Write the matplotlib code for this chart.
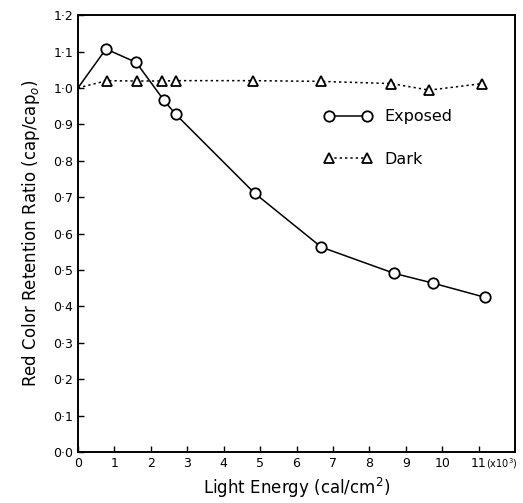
import matplotlib
matplotlib.use('Agg')
import matplotlib.pyplot as plt

plt.rcParams['font.family'] = ['DejaVu Sans']

# light energy (x10^3 cal/cm2) and red colour retention ratio
exposed_x = [0, 0.77, 1.6, 2.36, 2.68, 4.85, 6.68, 8.68, 9.75, 11.18]
exposed_y = [1.0, 1.107, 1.070, 0.966, 0.928, 0.711, 0.563, 0.491, 0.464, 0.425]

dark_x = [0, 0.79, 1.62, 2.3, 2.7, 4.8, 6.66, 8.6, 9.64, 11.1]
dark_y = [1.0, 1.020, 1.019, 1.019, 1.020, 1.020, 1.018, 1.012, 0.994, 1.012]

x_ticks = list(range(0, 12))
x_labels = [str(v) for v in x_ticks]
y_ticks = [i / 10 for i in range(0, 13)]
y_labels = [f'{v:.1f}'.replace('.', '·') for v in y_ticks]

fig = plt.figure(figsize=(5.23, 5.03), dpi=100)
ax = fig.add_axes([0.149, 0.101, 0.836, 0.869])

# first point (origin) has no marker in the original
ax.plot(exposed_x, exposed_y, color='black', lw=1.1, zorder=2)
ax.plot(exposed_x[1:], exposed_y[1:], ls='none', marker='o', ms=7.5,
        mfc='white', mec='black', mew=1.3, zorder=3)
ax.plot(dark_x, dark_y, color='black', lw=1.1, ls=(0, (1.5, 2)), zorder=2)
ax.plot(dark_x[1:], dark_y[1:], ls='none', marker='^', ms=7.5,
        mfc='white', mec='black', mew=1.3, zorder=3)

# legend proxies
h_exp, = ax.plot([], [], color='black', lw=1.1, marker='o', ms=7.5,
                 mfc='white', mec='black', mew=1.3)
h_dark, = ax.plot([], [], color='black', lw=1.1, ls=(0, (1.5, 2)), marker='^',
                  ms=7.5, mfc='white', mec='black', mew=1.3)
ax.legend([h_exp, h_dark], ['Exposed', 'Dark'], numpoints=2, frameon=False,
          loc='upper left', bbox_to_anchor=(0.53, 0.817), fontsize=11.5,
          handlelength=3.0, handletextpad=0.8, labelspacing=1.7)

ax.set_xlim(0, 12)
ax.set_ylim(0, 1.2)
ax.set_xticks(x_ticks)
ax.set_xticklabels(x_labels)
ax.set_yticks(y_ticks)
ax.set_yticklabels(y_labels)
ax.tick_params(direction='in', length=4, width=1, labelsize=9)
for s in ax.spines.values():
    s.set_linewidth(1.4)

ax.text(11.2, -0.012, '(x10$^3$)', ha='left', va='top', fontsize=7)

ax.set_xlabel('Light Energy (cal/cm$^2$)', fontsize=12, labelpad=4)
ax.set_ylabel('Red Color Retention Ratio (cap/cap$_o$)', fontsize=12, labelpad=8)

fig.savefig('out.png', dpi=100)
